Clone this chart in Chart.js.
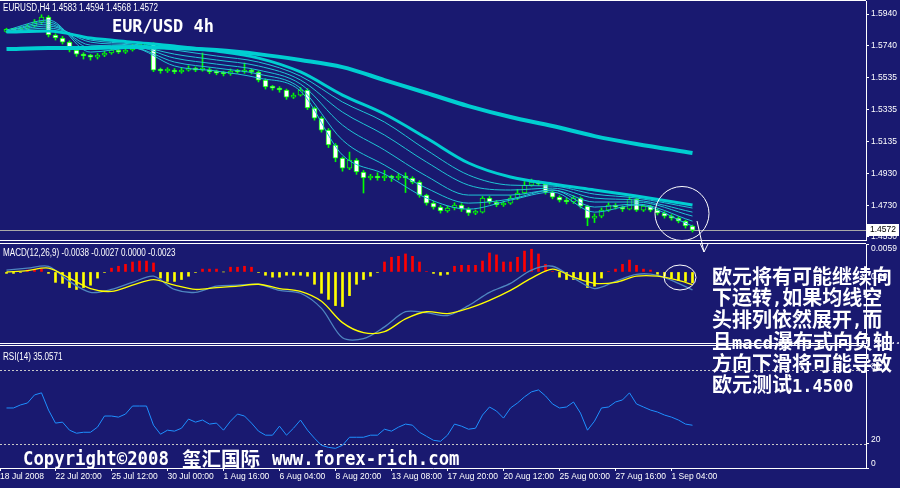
<!DOCTYPE html>
<html>
<head>
<meta charset="utf-8">
<script src="https://cdn.jsdelivr.net/npm/chart.js@4.4.0/dist/chart.umd.min.js"></script>
<style>
body{margin:0;background:#191970;width:900px;height:488px;overflow:hidden;position:relative}
.pane{position:absolute;left:0;width:900px}
.pane canvas{display:block}
.txt{position:absolute;white-space:nowrap;color:#fff;line-height:1;transform-origin:0 0}
.small{font:10px "Liberation Sans";transform:scaleX(0.81)}
.mono{font-family:"DejaVu Sans Mono";font-weight:700}
.cjk{font-family:"Noto Sans CJK SC";font-weight:700}
.a{font:700 17px "DejaVu Sans Mono"}
svg{position:absolute;left:0;top:0}
</style>
</head>
<body>
<div class="pane" style="top:0;height:241px"><canvas id="price-canvas" width="900" height="241"></canvas></div>
<div class="pane" style="top:243px;height:101px"><canvas id="macd-canvas" width="900" height="101"></canvas></div>
<div class="pane" style="top:345px;height:143px"><canvas id="rsi-canvas" width="900" height="143"></canvas></div>

<svg width="900" height="488">
  <circle cx="682" cy="213.5" r="27" fill="none" stroke="#fff" stroke-width="1"/>
  <ellipse cx="680" cy="277.5" rx="16" ry="12.5" fill="none" stroke="#fff" stroke-width="1"/>
  <polyline points="697,221 704,252" fill="none" stroke="#fff" stroke-width="1"/>
  <polyline points="700,243 704,252 708,244" fill="none" stroke="#fff" stroke-width="1"/>
</svg>

<div class="txt small" style="left:3px;top:2px">EURUSD,H4  1.4583 1.4594 1.4568 1.4572</div>
<div class="txt mono" style="left:112px;top:17px;font-size:18px;transform:scaleX(0.94)">EUR/USD 4h</div>
<div class="txt small" style="left:3px;top:247px">MACD(12,26,9) -0.0038 -0.0027 0.0000 -0.0023</div>
<div class="txt small" style="left:3px;top:351px">RSI(14) 35.0571</div>

<div class="txt cjk" style="left:712px;top:266px;font-size:20px;line-height:20.8px">欧元将有可能继续向<br>下运转<span class="a">,</span>如果均线空<br>头排列依然展开<span class="a">,</span>而<br>且<span class="a">macd</span>瀑布式向负轴<br>方向下滑将可能导致<br>欧元测试<span class="a">1.4500</span></div>

<div class="txt mono" style="left:23px;top:448px;font-size:20px;transform:scaleX(0.865)">Copyright©2008</div>
<div class="txt cjk" style="left:182px;top:448px;font-size:19.5px">玺汇国际</div>
<div class="txt mono" style="left:272px;top:448px;font-size:20px;transform:scaleX(0.865)">www.forex-rich.com</div>

<script>
// EURUSD 8h bars (two H4 bars each)
const opens = [1.5830,1.5838,1.5836,1.5851,1.5864,1.5889,1.5921,1.5807,1.5788,1.5762,
    1.5712,1.5686,1.5674,1.5667,1.5680,1.5693,1.5712,1.5699,1.5712,1.5737,
    1.5743,1.5750,1.5585,1.5579,1.5585,1.5573,1.5585,1.5598,1.5585,1.5588,
    1.5573,1.5566,1.5560,1.5579,1.5573,1.5579,1.5573,1.5522,1.5478,1.5471,
    1.5459,1.5414,1.5427,1.5459,1.5345,1.5281,1.5205,1.5111,1.5028,1.4965,
    1.5016,1.4940,1.4902,1.4908,1.4902,1.4908,1.4902,1.4914,1.4902,1.4876,
    1.4794,1.4743,1.4718,1.4693,1.4712,1.4731,1.4705,1.4680,1.4686,1.4775,
    1.4750,1.4731,1.4743,1.4775,1.4807,1.4857,1.4876,1.4864,1.4813,1.4781,
    1.4762,1.4750,1.4775,1.4724,1.4648,1.4661,1.4699,1.4731,1.4718,1.4705,
    1.4769,1.4699,1.4724,1.4699,1.4680,1.4661,1.4648,1.4629,1.4598]
const highs = [1.5850,1.5848,1.5860,1.5875,1.5905,1.5935,1.5930,1.5815,1.5798,1.5770,
    1.5722,1.5695,1.5685,1.5690,1.5705,1.5722,1.5720,1.5725,1.5748,1.5755,
    1.5760,1.5758,1.5598,1.5600,1.5595,1.5598,1.5612,1.5605,1.5693,1.5600,
    1.5585,1.5578,1.5592,1.5590,1.5630,1.5590,1.5580,1.5530,1.5488,1.5480,
    1.5465,1.5440,1.5475,1.5468,1.5352,1.5290,1.5215,1.5120,1.5035,1.5066,
    1.5025,1.4950,1.4925,1.4935,1.4950,1.4920,1.4930,1.4935,1.4910,1.4885,
    1.4800,1.4755,1.4728,1.4725,1.4745,1.4740,1.4715,1.4700,1.4785,1.4785,
    1.4760,1.4755,1.4790,1.4830,1.4880,1.4895,1.4885,1.4870,1.4820,1.4790,
    1.4775,1.4790,1.4782,1.4730,1.4675,1.4712,1.4745,1.4740,1.4725,1.4785,
    1.4775,1.4735,1.4730,1.4708,1.4690,1.4670,1.4658,1.4635,1.4604]
const lows = [1.5822,1.5826,1.5830,1.5843,1.5858,1.5880,1.5795,1.5775,1.5750,1.5700,
    1.5672,1.5655,1.5648,1.5655,1.5670,1.5685,1.5690,1.5690,1.5705,1.5728,
    1.5735,1.5575,1.5565,1.5570,1.5562,1.5565,1.5578,1.5575,1.5578,1.5562,
    1.5555,1.5548,1.5552,1.5565,1.5565,1.5560,1.5510,1.5465,1.5458,1.5445,
    1.5400,1.5405,1.5420,1.5335,1.5268,1.5192,1.5095,1.5005,1.4945,1.4955,
    1.4925,1.4807,1.4890,1.4888,1.4885,1.4880,1.4890,1.4810,1.4865,1.4780,
    1.4730,1.4705,1.4680,1.4685,1.4700,1.4690,1.4665,1.4670,1.4680,1.4738,
    1.4720,1.4722,1.4735,1.4765,1.4800,1.4850,1.4855,1.4800,1.4770,1.4750,
    1.4738,1.4740,1.4712,1.4600,1.4620,1.4650,1.4690,1.4705,1.4690,1.4700,
    1.4690,1.4690,1.4688,1.4668,1.4648,1.4635,1.4618,1.4585,1.4560]
const closes = [1.5838,1.5836,1.5851,1.5864,1.5889,1.5921,1.5807,1.5788,1.5762,1.5712,
    1.5686,1.5674,1.5667,1.5680,1.5693,1.5712,1.5699,1.5712,1.5737,1.5743,
    1.5750,1.5585,1.5579,1.5585,1.5573,1.5585,1.5598,1.5585,1.5588,1.5573,
    1.5566,1.5560,1.5579,1.5573,1.5579,1.5573,1.5522,1.5478,1.5471,1.5459,
    1.5414,1.5427,1.5459,1.5345,1.5281,1.5205,1.5111,1.5028,1.4965,1.5016,
    1.4940,1.4902,1.4908,1.4902,1.4908,1.4902,1.4914,1.4902,1.4876,1.4794,
    1.4743,1.4718,1.4693,1.4712,1.4731,1.4705,1.4680,1.4686,1.4775,1.4750,
    1.4731,1.4743,1.4775,1.4807,1.4857,1.4876,1.4864,1.4813,1.4781,1.4762,
    1.4750,1.4775,1.4724,1.4648,1.4661,1.4699,1.4731,1.4718,1.4705,1.4769,
    1.4699,1.4724,1.4699,1.4680,1.4661,1.4648,1.4629,1.4598,1.4572]

// moving average ribbon, sampled every 6 bars
const maBars = [0,6,12,18,24,30,36,42,48,54,60,66,72,78,84,90,98]
const maLong = [1.5718,1.5725,1.5725,1.5731,1.5725,1.5712,1.5686,1.5649,1.5604,1.5522,1.5440,1.5357,1.5288,1.5231,1.5167,1.5117,1.5060]
const maSlow = [1.5826,1.5832,1.5788,1.5762,1.5737,1.5706,1.5661,1.5573,1.5427,1.5307,1.5155,1.4997,1.4908,1.4864,1.4826,1.4788,1.4731]
const ma1 = [1.5838,1.5902,1.5699,1.5725,1.5611,1.5579,1.5535,1.5452,1.5047,1.4927,1.4775,1.4705,1.4762,1.4813,1.4686,1.4731,1.4598]
const ma2 = [1.5832,1.5889,1.5725,1.5725,1.5636,1.5598,1.5560,1.5471,1.5142,1.4984,1.4838,1.4743,1.4769,1.4826,1.4718,1.4737,1.4629]
const ma3 = [1.5832,1.5876,1.5743,1.5737,1.5661,1.5623,1.5585,1.5497,1.5237,1.5079,1.4914,1.4794,1.4794,1.4826,1.4750,1.4750,1.4661]
const ma4 = [1.5826,1.5864,1.5762,1.5743,1.5686,1.5649,1.5611,1.5522,1.5319,1.5174,1.5003,1.4857,1.4826,1.4838,1.4775,1.4762,1.4686]
const ma5 = [1.5826,1.5851,1.5775,1.5750,1.5712,1.5674,1.5636,1.5547,1.5383,1.5256,1.5079,1.4921,1.4857,1.4851,1.4800,1.4775,1.4712]

// MACD(12,26,9)
const macdHist = [-0.0003,-0.0003,-0.0001,0.0004,0.0006,0.0006,-0.0003,-0.0022,-0.0024,-0.0033,
    -0.0037,-0.0033,-0.0028,-0.0013,-0.0001,0.0008,0.0012,0.0016,0.0021,0.0023,
    0.0023,0.0019,-0.0013,-0.0020,-0.0020,-0.0016,-0.0009,-0.0001,0.0006,0.0006,
    0.0006,0.0000,0.0010,0.0010,0.0012,0.0010,-0.0001,-0.0007,-0.0011,-0.0011,
    -0.0007,-0.0007,-0.0007,-0.0009,-0.0026,-0.0045,-0.0058,-0.0071,-0.0073,-0.0050,
    -0.0026,-0.0016,-0.0009,-0.0001,0.0021,0.0031,0.0033,0.0038,0.0033,0.0021,
    0.0001,-0.0003,-0.0007,-0.0005,0.0012,0.0014,0.0014,0.0014,0.0023,0.0040,
    0.0036,0.0021,0.0021,0.0031,0.0044,0.0048,0.0038,0.0016,0.0001,-0.0011,
    -0.0016,-0.0016,-0.0016,-0.0033,-0.0030,-0.0013,0.0001,0.0006,0.0016,0.0025,
    0.0014,0.0006,0.0004,-0.0005,-0.0009,-0.0013,-0.0018,-0.0020,-0.0023]
const macdBars = [0,3,6,9,12,15,18,21,24,27,30,33,36,39,42,45,48,51,54,57,60,63,66,69,72,75,78,81,84,87,90,93,96,98]
const macdMain = [0.0004,0.0008,0.0012,-0.0020,-0.0043,-0.0037,-0.0022,-0.0009,-0.0037,-0.0043,-0.0030,-0.0028,-0.0026,-0.0039,-0.0045,-0.0077,-0.0139,
    -0.0141,-0.0116,-0.0084,-0.0086,-0.0092,-0.0071,-0.0043,-0.0024,0.0004,0.0012,-0.0013,-0.0035,-0.0020,-0.0005,-0.0007,-0.0024,-0.0038]
const macdSignal = [0.0000,0.0003,0.0008,-0.0013,-0.0035,-0.0041,-0.0028,-0.0016,-0.0028,-0.0037,-0.0033,-0.0030,-0.0026,-0.0035,-0.0041,-0.0062,-0.0107,
    -0.0128,-0.0126,-0.0099,-0.0084,-0.0088,-0.0077,-0.0060,-0.0039,-0.0013,0.0006,-0.0011,-0.0024,-0.0022,-0.0009,-0.0009,-0.0018,-0.0027]

// RSI(14)
const rsiValues = [49.2,49.2,51.7,53.3,59.9,61.6,47.5,36.8,37.6,31.0,
    28.5,29.3,29.3,33.5,42.6,42.6,41.7,44.2,50.8,50.8,
    50.8,35.1,27.7,31.0,30.2,32.6,40.1,37.6,39.3,36.0,
    36.8,31.0,38.4,44.2,42.6,36.8,30.2,26.9,26.9,34.3,
    26.9,32.6,39.3,31.0,24.4,18.6,16.9,16.1,18.6,25.2,
    25.2,25.2,26.9,26.9,31.8,30.2,33.5,36.0,35.1,29.3,
    26.0,22.7,21.9,26.9,36.0,34.3,31.8,32.6,43.4,50.0,
    46.7,40.9,49.2,53.3,58.3,62.4,64.0,59.1,52.5,49.2,
    50.0,54.1,45.0,31.0,38.4,49.2,50.0,54.1,55.8,61.6,
    52.5,50.0,47.5,45.9,43.4,41.7,39.3,36.0,35.06]
const rsiLevels = [80, 20]

// axis ticks
const priceTicks = [1.5940,1.5740,1.5535,1.5335,1.5135,1.4930,1.4730,1.4530]
const macdTicks = [0.0059, 0, -0.0144]
const rsiTicks = [100, 80, 20, 0]
const timeTickBars = [-0.92,7,15,23,31,39,47,55,63,71,79,87,95]
const timeLabels = ["18 Jul 2008","22 Jul 20:00","25 Jul 12:00","30 Jul 00:00","1 Aug 16:00","6 Aug 04:00",
    "8 Aug 20:00","13 Aug 08:00","17 Aug 20:00","20 Aug 12:00","25 Aug 00:00","27 Aug 16:00","1 Sep 04:00"]

const BG = "#191970"
const X_MIN = -0.9286
const X_MAX = 122.786

function toPoints(bars, values){
    return values.map((v, k) => ({x: bars[k], y: v}))
}

// keep the plot area from shrinking around the end labels
function noMargins(scale){
    scale.paddingTop = 0
    scale.paddingBottom = 0
    scale.paddingLeft = 0
    scale.paddingRight = 0
}

function yAxis(min, max, tickValues, fmt, labelOffset){
    return {
        position: "right",
        min: min,
        max: max,
        afterFit: function(scale){ scale.width = 34; noMargins(scale) },
        afterBuildTicks: function(scale){ scale.ticks = tickValues.map(v => ({value: v})) },
        grid: {drawOnChartArea: false, color: "#fff", tickLength: 3},
        border: {color: "#fff"},
        ticks: {color: "#fff", font: {family: "Liberation Sans", size: 8.5}, padding: 2, autoSkip: false,
            labelOffset: labelOffset || 0, callback: fmt}
    }
}

function hiddenX(){
    return {type: "linear", display: false, min: X_MIN, max: X_MAX, offset: false}
}

function baseOptions(scales, padding){
    return {
        responsive: false,
        animation: false,
        devicePixelRatio: 1,
        events: [],
        layout: {padding: padding},
        plugins: {legend: {display: false}, tooltip: {enabled: false}},
        scales: scales
    }
}

// white frame lines at top/bottom of each window
function framePlugin(drawBottom){
    return {
        id: "frame",
        afterDraw(chart){
            const a = chart.chartArea
            const ctx = chart.ctx
            ctx.save()
            ctx.strokeStyle = "#fff"
            ctx.lineWidth = 1
            ctx.beginPath()
            ctx.moveTo(0, a.top - 0.5); ctx.lineTo(a.right, a.top - 0.5)
            if (drawBottom){ ctx.moveTo(0, a.bottom + 0.5); ctx.lineTo(a.right, a.bottom + 0.5) }
            ctx.stroke()
            ctx.restore()
        }
    }
}

const lastPricePlugin = {
    id: "lastPrice",
    beforeDatasetsDraw(chart){
        const a = chart.chartArea
        const y = Math.round(chart.scales.y.getPixelForValue(closes[closes.length - 1])) + 0.5
        const ctx = chart.ctx
        ctx.save()
        ctx.strokeStyle = "#a8a8a8"
        ctx.beginPath(); ctx.moveTo(0, y); ctx.lineTo(a.right, y); ctx.stroke()
        ctx.restore()
    },
    afterDraw(chart){
        const a = chart.chartArea
        const last = closes[closes.length - 1]
        const y = chart.scales.y.getPixelForValue(last)
        const ctx = chart.ctx
        ctx.save()
        ctx.fillStyle = "#fff"
        ctx.fillRect(a.right + 1, Math.round(y) - 6, 32, 12)
        ctx.fillStyle = "#000"
        ctx.font = '8.5px "Liberation Sans"'
        ctx.textBaseline = "middle"
        ctx.fillText(last.toFixed(4), a.right + 4, Math.round(y))
        ctx.restore()
    }
}

const rsiLevelPlugin = {
    id: "rsiLevels",
    beforeDatasetsDraw(chart){
        const a = chart.chartArea
        const ctx = chart.ctx
        ctx.save()
        ctx.strokeStyle = "#c8c8c8"
        ctx.setLineDash([2, 2])
        rsiLevels.forEach(function(level){
            const y = Math.round(chart.scales.y.getPixelForValue(level)) + 0.5
            ctx.beginPath(); ctx.moveTo(0, y); ctx.lineTo(a.right, y); ctx.stroke()
        })
        ctx.restore()
    }
}

function maLine(values, width, color){
    return {
        type: "line",
        data: toPoints(maBars, values),
        borderColor: color,
        borderWidth: width,
        pointRadius: 0,
        cubicInterpolationMode: "monotone",
        order: 0
    }
}

function getPriceChart(){
    const idx = closes.map((c, i) => i)
    new Chart(document.getElementById("price-canvas"), {
        type: "bar",
        data: {
            datasets: [
                maLine(maLong, 4, "#00ced1"),
                maLine(maSlow, 3, "#00ced1"),
                maLine(ma5, 1, "#1fc4d4"),
                maLine(ma4, 1, "#1fc4d4"),
                maLine(ma3, 1, "#1fc4d4"),
                maLine(ma2, 1, "#1fc4d4"),
                maLine(ma1, 1, "#1fc4d4"),
                {
                    data: idx.map(i => ({x: i, y: [lows[i], highs[i]]})),
                    backgroundColor: "#00ff00",
                    barThickness: 1,
                    grouped: false,
                    order: 3
                },
                {
                    data: idx.map(i => ({x: i, y: [opens[i], closes[i]]})),
                    backgroundColor: idx.map(i => closes[i] < opens[i] ? "#ffffff" : BG),
                    borderColor: "#00ff00",
                    borderWidth: 1,
                    borderSkipped: false,
                    barThickness: 5,
                    minBarLength: 2,
                    grouped: false,
                    order: 2
                }
            ]
        },
        options: baseOptions({
            x: hiddenX(),
            y: yAxis(1.45096, 1.60223, priceTicks, v => v.toFixed(4))
        }, {top: 1, bottom: 1, left: 0, right: 0}),
        plugins: [framePlugin(true), lastPricePlugin]
    })
}

function getMacdChart(){
    new Chart(document.getElementById("macd-canvas"), {
        type: "bar",
        data: {
            datasets: [
                {
                    type: "line",
                    data: toPoints(macdBars, macdSignal),
                    borderColor: "#ffff00",
                    borderWidth: 1.3,
                    pointRadius: 0,
                    tension: 0.3,
                    order: 0
                },
                {
                    type: "line",
                    data: toPoints(macdBars, macdMain),
                    borderColor: "#4f86c0",
                    borderWidth: 1.3,
                    pointRadius: 0,
                    tension: 0.3,
                    order: 1
                },
                {
                    data: macdHist.map((v, i) => ({x: i, y: v})),
                    backgroundColor: macdHist.map(v => v > 0 ? "#ff0000" : "#ffff00"),
                    barThickness: 2,
                    grouped: false,
                    order: 2
                }
            ]
        },
        options: baseOptions({
            x: hiddenX(),
            y: yAxis(-0.0150, 0.0059, macdTicks, v => v === 0 ? "0.00" : v.toFixed(4), 5)
        }, {top: 1, bottom: 1, left: 0, right: 0}),
        plugins: [framePlugin(true)]
    })
}

function getRsiChart(){
    new Chart(document.getElementById("rsi-canvas"), {
        type: "line",
        data: {
            datasets: [{
                data: rsiValues.map((v, i) => ({x: i, y: v})),
                borderColor: "#1e90ff",
                borderWidth: 1,
                pointRadius: 0,
                tension: 0
            }]
        },
        options: baseOptions({
            x: {
                type: "linear",
                min: X_MIN,
                max: X_MAX,
                offset: false,
                afterFit: function(scale){ scale.height = 20; noMargins(scale) },
                afterBuildTicks: function(scale){ scale.ticks = timeTickBars.map(v => ({value: v})) },
                grid: {drawOnChartArea: false, color: "#fff", tickLength: 3},
                border: {color: "#fff"},
                ticks: {
                    color: "#fff",
                    font: {family: "Liberation Sans", size: 8.5},
                    autoSkip: false,
                    maxRotation: 0,
                    align: "start",
                    padding: 1,
                    callback: (v, k) => timeLabels[k]
                }
            },
            y: yAxis(0, 100, rsiTicks, v => String(v), -4)
        }, {top: 1, bottom: 0, left: 0, right: 0}),
        plugins: [framePlugin(false), rsiLevelPlugin]
    })
}

getPriceChart()
getMacdChart()
getRsiChart()
</script>
</body>
</html>
